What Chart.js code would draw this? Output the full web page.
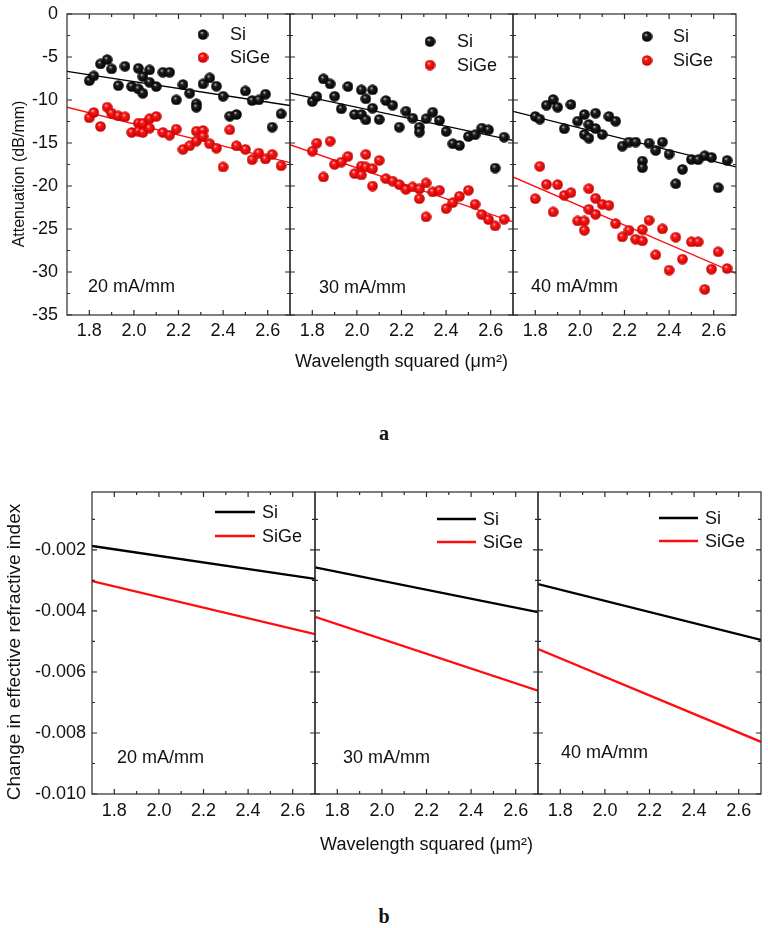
<!DOCTYPE html>
<html><head><meta charset="utf-8">
<script src="https://cdn.jsdelivr.net/npm/chart.js@4.4.1/dist/chart.umd.min.js"></script>
<style>
html,body{margin:0;padding:0;background:#fff;width:768px;height:928px;overflow:hidden;position:relative;}
canvas{position:absolute;}
.cap{position:absolute;width:40px;text-align:center;font:bold 20px 'Liberation Serif','Times New Roman',serif;line-height:20px;color:#111;}
</style></head>
<body>
<canvas id="a1"></canvas><canvas id="a2"></canvas><canvas id="a3"></canvas>
<canvas id="b1"></canvas><canvas id="b2"></canvas><canvas id="b3"></canvas>
<div class="cap" style="left:364px;top:423px">a</div>
<div class="cap" style="left:364px;top:906px">b</div>
<script>
// ---------- data ----------
const currents = ['20 mA/mm', '30 mA/mm', '40 mA/mm'];
const seriesNames = ['Si', 'SiGe'];
const xTickValues = [1.8, 2.0, 2.2, 2.4, 2.6];
const xMinorValues = [1.9, 2.1, 2.3, 2.5];
const attTickValues = [0, -5, -10, -15, -20, -25, -30, -35];
const attMinorValues = [-2.5, -7.5, -12.5, -17.5, -22.5, -27.5, -32.5];
const dnTickValues = [-0.002, -0.004, -0.006, -0.008, -0.010];
const dnMinorValues = [-0.001, -0.003, -0.005, -0.007, -0.009];

// attenuation (dB/mm) vs wavelength squared, measured points [x, y]
const attSi20 = [[1.80,-7.74],[1.82,-7.20],[1.85,-5.80],[1.88,-5.30],[1.90,-6.38],[1.93,-8.32],[1.96,-6.07],[1.99,-8.43],[2.02,-6.31],[2.02,-8.70],[2.04,-7.27],[2.04,-9.21],[2.07,-6.50],[2.07,-7.93],[2.10,-8.43],[2.13,-6.77],[2.16,-6.77],[2.19,-9.98],[2.22,-8.20],[2.25,-9.21],[2.28,-10.44],[2.28,-10.83],[2.31,-8.12],[2.34,-7.43],[2.37,-8.39],[2.40,-9.56],[2.43,-11.88],[2.46,-11.68],[2.50,-8.94],[2.53,-10.06],[2.56,-9.98],[2.59,-9.32],[2.62,-13.15],[2.66,-11.60]];
const attSiGe20 = [[1.80,-12.07],[1.82,-11.45],[1.85,-13.07],[1.88,-10.83],[1.90,-11.53],[1.93,-11.84],[1.96,-11.95],[1.99,-13.77],[2.02,-12.69],[2.02,-13.62],[2.04,-12.69],[2.04,-13.77],[2.07,-12.18],[2.07,-13.27],[2.10,-11.91],[2.13,-13.77],[2.16,-14.08],[2.19,-13.38],[2.22,-15.74],[2.25,-15.32],[2.28,-14.78],[2.28,-13.62],[2.31,-13.54],[2.31,-14.23],[2.34,-15.08],[2.37,-15.59],[2.40,-17.79],[2.43,-13.46],[2.46,-15.32],[2.50,-15.74],[2.53,-16.94],[2.56,-16.17],[2.59,-16.86],[2.62,-16.32],[2.66,-17.64]];
const attSi30 = [[1.80,-10.17],[1.82,-9.59],[1.85,-7.54],[1.88,-8.12],[1.90,-9.56],[1.93,-11.02],[1.96,-8.43],[1.99,-11.68],[2.02,-8.82],[2.02,-11.68],[2.04,-9.86],[2.04,-12.30],[2.07,-8.82],[2.07,-10.95],[2.10,-12.26],[2.13,-10.06],[2.16,-10.60],[2.19,-13.15],[2.22,-11.30],[2.25,-12.11],[2.28,-13.15],[2.28,-13.73],[2.31,-12.18],[2.34,-11.41],[2.37,-12.38],[2.40,-13.65],[2.43,-15.08],[2.46,-15.28],[2.50,-14.23],[2.53,-14.04],[2.56,-13.27],[2.59,-13.46],[2.62,-17.91],[2.66,-14.31]];
const attSiGe30 = [[1.80,-15.94],[1.82,-15.01],[1.85,-18.95],[1.88,-14.78],[1.90,-17.48],[1.93,-17.21],[1.96,-16.55],[1.99,-18.56],[2.02,-17.68],[2.02,-18.72],[2.04,-16.32],[2.04,-17.79],[2.07,-17.98],[2.07,-20.00],[2.10,-17.02],[2.13,-19.14],[2.16,-19.42],[2.19,-19.84],[2.22,-20.38],[2.25,-20.11],[2.28,-20.34],[2.28,-21.47],[2.31,-19.65],[2.31,-23.59],[2.34,-20.69],[2.37,-20.50],[2.40,-22.63],[2.43,-21.93],[2.46,-21.19],[2.50,-20.50],[2.53,-22.12],[2.56,-23.32],[2.59,-23.90],[2.62,-24.64],[2.66,-23.86]];
const attSi40 = [[1.80,-11.91],[1.82,-12.22],[1.85,-10.60],[1.88,-9.94],[1.90,-10.83],[1.93,-13.34],[1.96,-10.52],[1.99,-12.46],[2.02,-14.00],[2.02,-11.68],[2.04,-12.84],[2.04,-14.43],[2.07,-13.31],[2.07,-11.53],[2.10,-14.00],[2.13,-11.91],[2.16,-12.46],[2.19,-15.36],[2.22,-14.89],[2.25,-14.89],[2.28,-17.10],[2.28,-17.87],[2.31,-15.01],[2.34,-15.86],[2.37,-14.89],[2.40,-16.28],[2.43,-19.73],[2.46,-18.06],[2.50,-16.90],[2.53,-16.94],[2.56,-16.48],[2.59,-16.67],[2.62,-20.19],[2.66,-17.02]];
const attSiGe40 = [[1.80,-21.47],[1.82,-17.71],[1.85,-19.80],[1.88,-23.01],[1.90,-19.84],[1.93,-21.08],[1.96,-20.77],[1.99,-24.06],[2.02,-24.06],[2.02,-25.14],[2.04,-20.31],[2.04,-22.70],[2.07,-21.43],[2.07,-23.28],[2.10,-22.12],[2.13,-22.24],[2.16,-24.37],[2.19,-25.91],[2.22,-25.14],[2.25,-26.18],[2.28,-26.38],[2.28,-25.06],[2.31,-23.98],[2.34,-28.00],[2.37,-24.98],[2.40,-29.78],[2.43,-25.95],[2.46,-28.50],[2.50,-26.49],[2.53,-26.49],[2.56,-32.02],[2.59,-29.66],[2.62,-27.65],[2.66,-29.59]];

// linear fits of attenuation (end points at x = 1.7 and 2.7)
const fitX = [1.7, 2.7];
const fitSi20 = [-6.66, -10.64];
const fitSiGe20 = [-10.84, -17.29];
const fitSi30 = [-9.21, -14.70];
const fitSiGe30 = [-15.20, -24.17];
const fitSi40 = [-11.33, -17.79];
const fitSiGe40 = [-18.95, -30.17];

// change in effective refractive index (end points at x = 1.7 and 2.7)
const dnX = [1.7, 2.7];
const dnSi20 = [-0.00187, -0.00295];
const dnSiGe20 = [-0.00302, -0.00476];
const dnSi30 = [-0.00257, -0.00404];
const dnSiGe30 = [-0.00419, -0.00661];
const dnSi40 = [-0.00312, -0.00495];
const dnSiGe40 = [-0.00525, -0.00829];

// ---------- styling / layout ----------
const FONT = "'Liberation Sans', Arial, Helvetica, sans-serif";
Chart.defaults.font.family = FONT;
Chart.defaults.color = '#111';
const RED = '#ff0d0d';

function makeSphere(hi, mid, edge) {
  const d = 11, c = document.createElement('canvas');
  c.width = d; c.height = d;
  const g = c.getContext('2d');
  const gr = g.createRadialGradient(d * 0.38, d * 0.33, 0, d * 0.5, d * 0.5, d * 0.5);
  gr.addColorStop(0, hi); gr.addColorStop(0.3, mid); gr.addColorStop(1, edge);
  g.fillStyle = gr; g.beginPath(); g.arc(d / 2, d / 2, d / 2 - 0.2, 0, Math.PI * 2); g.fill();
  return c;
}
const ballBlack = makeSphere('#e0e0e0', '#202020', '#000000');
const ballRed = makeSphere('#ffe4e4', '#ff1a1a', '#c00000');

const FIG_A = {top: 14, height: 301, xs: [67, 290, 513, 736], axisH: 60, tickPad: 5, yAxisW: 67, yPad: 9};
const FIG_B = {top: 492, height: 302, xs: [92, 315, 538, 761], axisH: 62, tickPad: 6, yAxisW: 92, yPad: 6};

const panelDecor = {
  id: 'panelDecor',
  afterDatasetsDraw(chart, args, o) {
    const {ctx, chartArea: a} = chart;
    const x = chart.scales.x, y = chart.scales.y;
    ctx.save();
    ctx.strokeStyle = '#2a2a2a'; ctx.lineWidth = 1.2;
    ctx.beginPath();
    const xt = (vals, len) => vals.forEach(v => { const p = x.getPixelForValue(v);
      ctx.moveTo(p, a.bottom); ctx.lineTo(p, a.bottom - len); ctx.moveTo(p, a.top); ctx.lineTo(p, a.top + len); });
    const yt = (vals, len) => vals.forEach(v => { const p = y.getPixelForValue(v);
      ctx.moveTo(a.left, p); ctx.lineTo(a.left + len, p); ctx.moveTo(a.right, p); ctx.lineTo(a.right - len, p); });
    xt(xTickValues, 5); xt(xMinorValues, 3);
    yt(o.yMajor, 5); yt(o.yMinor, 3);
    ctx.stroke();
    ctx.strokeRect(a.left, a.top, a.right - a.left, a.bottom - a.top);
    // panel label
    ctx.fillStyle = '#111';
    ctx.font = '18px ' + FONT;
    ctx.textAlign = 'left'; ctx.textBaseline = 'alphabetic';
    ctx.fillText(o.label, a.left + o.labelPos[0], a.top + o.labelPos[1]);
    // legend
    const L = o.legend;
    ctx.textBaseline = 'middle';
    seriesNames.forEach((name, i) => {
      const cy = a.top + L.dy[i];
      if (o.kind === 'a') {
        const img = i === 0 ? ballBlack : ballRed;
        ctx.drawImage(img, a.left + L.dx - img.width / 2, cy - img.height / 2);
      } else {
        ctx.strokeStyle = i === 0 ? '#000' : RED; ctx.lineWidth = 2.3;
        ctx.beginPath(); ctx.moveTo(a.left + L.dx, cy); ctx.lineTo(a.left + L.dx2, cy); ctx.stroke();
      }
      ctx.fillStyle = '#111';
      ctx.fillText(name, a.left + L.tx, cy + 1);
    });
    // y-axis title (first panel only)
    if (o.yTitle) {
      const t = o.yTitle;
      ctx.save();
      ctx.translate(t.x, a.top + t.cy);
      ctx.rotate(-Math.PI / 2);
      ctx.font = t.size + 'px ' + FONT;
      ctx.textAlign = 'center'; ctx.textBaseline = 'middle';
      ctx.fillStyle = '#111';
      ctx.fillText(t.text, 0, 0);
      ctx.restore();
    }
    ctx.restore();
  }
};

function makePanel(p) {
  const f = p.fig;
  const left = f.xs[p.idx], right = f.xs[p.idx + 1];
  const padL = p.idx === 0 ? f.yAxisW : 10;
  const padR = p.idx === 2 ? Math.max(768 - right - 1, 6) : 10;
  const padT = 14;
  const cv = document.getElementById(p.id);
  cv.width = padL + (right - left) + padR;
  cv.height = padT + f.height + f.axisH;
  cv.style.left = (left - padL) + 'px';
  cv.style.top = (f.top - padT) + 'px';
  const showY = p.idx === 0;
  new Chart(cv, {
    type: 'scatter',
    data: {datasets: p.datasets},
    options: {
      responsive: false, animation: false, devicePixelRatio: 1, events: [],
      layout: {padding: {left: showY ? 0 : padL, right: padR, top: padT, bottom: 0}},
      plugins: {legend: {display: false}, tooltip: {enabled: false}, panelDecor: p.decor},
      scales: {
        x: {
          type: 'linear', min: 1.7, max: 2.7,
          grid: {display: false, drawTicks: false}, border: {display: false},
          afterBuildTicks: s => { s.ticks = xTickValues.map(v => ({value: v})); },
          ticks: {font: {size: 18}, color: '#111', padding: f.tickPad, autoSkip: false, maxRotation: 0,
                  callback: v => Number(v).toFixed(1)},
          title: {display: p.idx === 1, text: 'Wavelength squared (\u03bcm\u00b2)', font: {size: 18}, color: '#111',
                  padding: {top: 0, bottom: p.fig === FIG_A ? 2 : 0}},
          afterFit: s => { s.height = f.axisH; s.paddingLeft = 0; s.paddingRight = 0; }
        },
        y: {
          type: 'linear', min: p.yMin, max: p.yMax, display: showY,
          grid: {display: false, drawTicks: false}, border: {display: false},
          afterBuildTicks: s => { s.ticks = p.yTicks.map(v => ({value: v})); },
          ticks: {font: {size: 18}, color: '#111', padding: f.yPad, autoSkip: false, callback: p.yFmt},
          title: {display: false},
          afterFit: s => { if (showY) { s.width = padL; } s.paddingTop = 0; s.paddingBottom = 0; }
        }
      }
    },
    plugins: [panelDecor]
  });
}

const toXY = arr => arr.map(([x, y]) => ({x, y}));
const lineXY = (xs, ys) => xs.map((x, i) => ({x, y: ys[i]}));

function attSets(si, sige, fSi, fSiGe) {
  return [
    {label: seriesNames[0], data: toXY(si), pointStyle: ballBlack, pointRadius: 5.5, showLine: false, order: 0},
    {label: seriesNames[1], data: toXY(sige), pointStyle: ballRed, pointRadius: 5.5, showLine: false, order: 0},
    {label: 'fit Si', data: lineXY(fitX, fSi), showLine: true, borderColor: '#000', borderWidth: 1.3, pointRadius: 0, order: 1},
    {label: 'fit SiGe', data: lineXY(fitX, fSiGe), showLine: true, borderColor: RED, borderWidth: 1.3, pointRadius: 0, order: 1}
  ];
}
function dnSets(si, sige) {
  return [
    {label: seriesNames[0], data: lineXY(dnX, si), showLine: true, borderColor: '#000', borderWidth: 2.3, pointRadius: 0},
    {label: seriesNames[1], data: lineXY(dnX, sige), showLine: true, borderColor: RED, borderWidth: 2.3, pointRadius: 0}
  ];
}

const attCommon = {fig: FIG_A, yMin: -35, yMax: 0, yTicks: attTickValues, yFmt: v => String(Math.round(v))};
const dnCommon = {fig: FIG_B, yMin: -0.010, yMax: -0.0001, yTicks: dnTickValues, yFmt: v => Number(v).toFixed(3)};
const attYTitle = {text: 'Attenuation (dB/mm)', size: 16, x: 20, cy: 160};
const dnYTitle = {text: 'Change in effective refractive index', size: 19, x: 15, cy: 160};

const attLegends = [{dx: 136, dy: [20.5, 43.5], tx: 163}, {dx: 140, dy: [27.5, 51], tx: 167}, {dx: 134, dy: [22.5, 46.5], tx: 160}];
const attLabelPos = [[21, 278], [29, 279], [18, 278]];
const dnLegends = [{dx: 123, dx2: 163, dy: [20, 44], tx: 170}, {dx: 122, dx2: 161, dy: [27, 50], tx: 168}, {dx: 121, dx2: 160, dy: [26, 49], tx: 167}];
const dnLabelPos = [[25, 271], [28, 271], [23, 266]];

const attData = [[attSi20, attSiGe20, fitSi20, fitSiGe20], [attSi30, attSiGe30, fitSi30, fitSiGe30], [attSi40, attSiGe40, fitSi40, fitSiGe40]];
const dnData = [[dnSi20, dnSiGe20], [dnSi30, dnSiGe30], [dnSi40, dnSiGe40]];

[0, 1, 2].forEach(i => {
  makePanel(Object.assign({}, attCommon, {
    id: 'a' + (i + 1), idx: i, datasets: attSets(...attData[i]),
    decor: {kind: 'a', label: currents[i], labelPos: attLabelPos[i], legend: attLegends[i], yMajor: attTickValues, yMinor: attMinorValues,
            yTitle: i === 0 ? attYTitle : null}
  }));
  makePanel(Object.assign({}, dnCommon, {
    id: 'b' + (i + 1), idx: i, datasets: dnSets(...dnData[i]),
    decor: {kind: 'b', label: currents[i], labelPos: dnLabelPos[i], legend: dnLegends[i], yMajor: dnTickValues, yMinor: dnMinorValues,
            yTitle: i === 0 ? dnYTitle : null}
  }));
});
</script>
</body></html>
